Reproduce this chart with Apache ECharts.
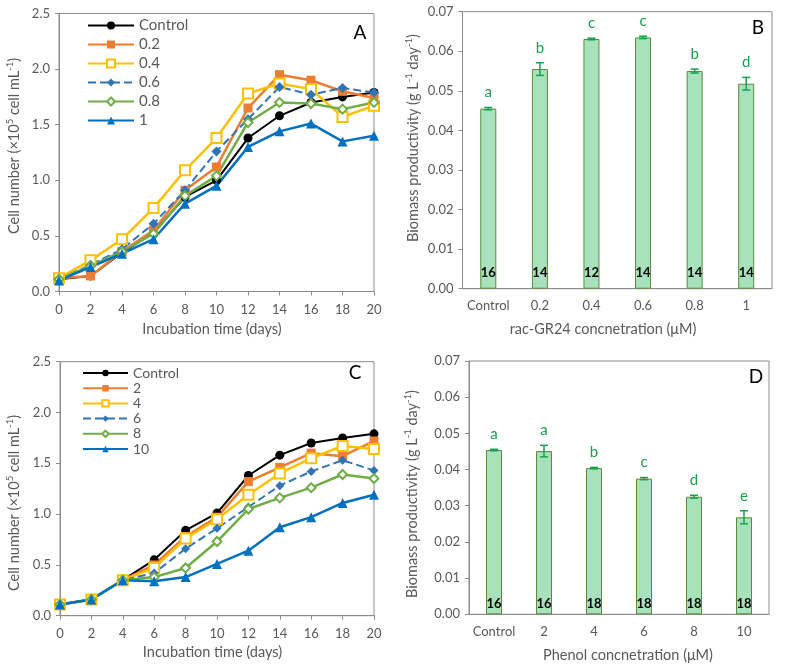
<!DOCTYPE html>
<html><head><meta charset="utf-8">
<script src="https://cdn.jsdelivr.net/npm/echarts@6/dist/echarts.min.js"></script>
<style>html,body{margin:0;padding:0;background:#fff}#c{width:787px;height:667px}</style>
</head><body><div id="c"></div>
<script>
// ---- data ----
const days = [0,2,4,6,8,10,12,14,16,18,20];
// Panel A (rac-GR24)
const aControl = [0.11,0.14,0.35,0.53,0.85,1.00,1.38,1.58,1.70,1.75,1.79];
const a02      = [0.12,0.14,0.36,0.55,0.91,1.12,1.65,1.95,1.90,1.80,1.74];
const a04      = [0.12,0.28,0.47,0.75,1.09,1.38,1.78,1.87,1.82,1.57,1.67];
const a06      = [0.11,0.24,0.38,0.61,0.91,1.26,1.55,1.84,1.77,1.83,1.79];
const a08      = [0.11,0.23,0.36,0.52,0.86,1.04,1.52,1.70,1.69,1.64,1.70];
const a1       = [0.10,0.22,0.34,0.47,0.79,0.95,1.30,1.44,1.51,1.35,1.40];
// Panel C (phenol)
const cControl = [0.11,0.16,0.35,0.55,0.84,1.01,1.38,1.58,1.70,1.75,1.79];
const c2       = [0.11,0.16,0.35,0.50,0.78,0.97,1.32,1.46,1.60,1.57,1.72];
const c4       = [0.11,0.16,0.35,0.47,0.76,0.95,1.19,1.40,1.55,1.67,1.64];
const c6       = [0.11,0.16,0.35,0.42,0.66,0.86,1.07,1.28,1.42,1.53,1.43];
const c8       = [0.11,0.16,0.35,0.38,0.47,0.73,1.05,1.16,1.26,1.39,1.35];
const c10      = [0.11,0.16,0.35,0.34,0.38,0.51,0.64,0.87,0.97,1.11,1.19];
// Panel B
const bCats    = ['Control','0.2','0.4','0.6','0.8','1'];
const bMeans   = [0.0455,0.0555,0.0631,0.0635,0.0550,0.0518];
const bErr     = [0.0003,0.0016,0.0002,0.0003,0.0005,0.0016];
const bLetters = ['a','b','c','c','b','d'];
const bN       = ['16','14','12','14','14','14'];
// Panel D
const dCats    = ['Control','2','4','6','8','10'];
const dMeans   = [0.0454,0.0451,0.0404,0.0375,0.0325,0.0268];
const dErr     = [0.0002,0.0016,0.0002,0.0003,0.0004,0.0018];
const dLetters = ['a','a','b','c','d','e'];
const dN       = ['16','16','18','18','18','18'];

// ---- styling ----
const FONT = 'Lato';
const AX = '#8c8c8c', LBL = '#595959', GREEN = '#1a9f4f';
const BAR = '#a8e2bc', BARB = '#5a8a3a';

function pair(arr){ return days.map((d,i)=>[d,arr[i]]); }

function lineSeries(name, arr, idx, color, symbol, size, opts){
  opts = opts || {};
  const empty = symbol.indexOf('empty') === 0;
  return {
    type:'line', name, xAxisIndex:idx, yAxisIndex:idx, data:pair(arr),
    symbol, symbolSize:size, showAllSymbol:true,
    lineStyle:{color, width:opts.width||2, type:opts.dash?'dashed':'solid'},
    itemStyle:{color, borderColor:color, borderWidth: empty?1.5:0},
    emphasis:{disabled:true}, animation:false
  };
}

function xValAxis(g){
  return {gridIndex:g, type:'value', min:0, max:20, interval:2,
    splitLine:{show:false},
    axisLine:{lineStyle:{color:AX}}, axisTick:{length:4, lineStyle:{color:AX}},
    axisLabel:{color:LBL, fontFamily:FONT, fontSize:13, margin:12}};
}
function yValAxis(g, max, interval, dec){
  return {gridIndex:g, type:'value', min:0, max, interval,
    splitLine:{show:false},
    axisLine:{show:true, lineStyle:{color:AX}}, axisTick:{show:true, length:4, lineStyle:{color:AX}},
    axisLabel:{color:LBL, fontFamily:FONT, fontSize:13, margin:9, formatter:v=>v.toFixed(dec)}};
}
function xCatAxis(g, cats){
  return {gridIndex:g, type:'category', data:cats,
    axisLine:{lineStyle:{color:AX}}, axisTick:{length:5, interval:0, lineStyle:{color:AX}},
    axisLabel:{color:LBL, fontFamily:FONT, fontSize:13, margin:11, interval:0}};
}

function barSeries(idx, means, ns, dist){
  return {type:'bar', xAxisIndex:idx, yAxisIndex:idx, barWidth:16,
    data: means,
    itemStyle:{color:BAR, borderColor:BARB, borderWidth:1},
    label:{show:true, position:'insideBottom', distance:dist, color:'#000',
      fontFamily:FONT, fontWeight:'bold', fontSize:13, formatter:p=>ns[p.dataIndex]},
    emphasis:{disabled:true}, animation:false, z:2};
}
function errSeries(idx, means, errs, letters){
  return {type:'custom', xAxisIndex:idx, yAxisIndex:idx, z:5, animation:false,
    data: means.map((m,i)=>[i,m,errs[i]]),
    renderItem:(params, api)=>{
      const i = api.value(0), m = api.value(1), e = api.value(2);
      const top = api.coord([i, m+e]), bot = api.coord([i, m-e]);
      const h = 4, st = {stroke:GREEN, lineWidth:1.5};
      return {type:'group', children:[
        {type:'line', shape:{x1:top[0],y1:top[1],x2:bot[0],y2:bot[1]}, style:st},
        {type:'line', shape:{x1:top[0]-h,y1:top[1],x2:top[0]+h,y2:top[1]}, style:st},
        {type:'line', shape:{x1:bot[0]-h,y1:bot[1],x2:bot[0]+h,y2:bot[1]}, style:st},
        {type:'text', style:{text:letters[params.dataIndex], x:top[0], y:top[1]-15,
          align:'center', verticalAlign:'middle', fill:GREEN, font:'15px '+FONT}}
      ]};
    }};
}

const richSup = {
  a:{fontFamily:FONT, fontSize:14.5, fill:LBL, lineHeight:17, verticalAlign:'bottom'},
  s:{fontFamily:FONT, fontSize:9.5, fill:LBL, lineHeight:17, verticalAlign:'top'}
};
function title(text, x, y, rot, size){
  return {type:'text', x, y, rotation: rot?Math.PI/2:0, z:10,
    style:{text, align:'center', verticalAlign:'middle', fill:LBL,
      fontFamily:FONT, fontSize:(size||14.5), rich:richSup}};
}
function panel(t, x, y){
  return {type:'text', x, y, z:10, style:{text:t, align:'center', verticalAlign:'middle', fill:'#000', fontFamily:FONT, fontSize:19}};
}

const gridStyle = {show:true, borderColor:AX, borderWidth:1, backgroundColor:'transparent'};

const option = {
  animation:false,
  backgroundColor:'#fff',
  grid:[
    Object.assign({left:59, top:13.5, width:315, height:278}, gridStyle),
    Object.assign({left:462.5, top:11.7, width:309.5, height:277}, gridStyle),
    Object.assign({left:60, top:361.7, width:314, height:254}, gridStyle),
    Object.assign({left:469, top:361, width:300, height:253.3}, gridStyle)
  ],
  xAxis:[ xValAxis(0), xCatAxis(1,bCats), xValAxis(2), xCatAxis(3,dCats) ],
  yAxis:[ yValAxis(0,2.5,0.5,1), yValAxis(1,0.07,0.01,2), yValAxis(2,2.5,0.5,1), yValAxis(3,0.07,0.01,2) ],
  legend:[
    {orient:'vertical', left:82, top:13, itemWidth:46, itemHeight:10, itemGap:4,
     data:['Control','0.2','0.4','0.6','0.8','1'],
     textStyle:{fontFamily:FONT, fontSize:15, color:LBL}, selectedMode:false},
    {orient:'vertical', left:77, top:361, itemWidth:45, itemHeight:8, itemGap:1.2,
     data:['Control ','2','4','6','8','10'],
     formatter: n=>n.trim(),
     textStyle:{fontFamily:FONT, fontSize:14, color:LBL}, selectedMode:false}
  ],
  series:[
    lineSeries('Control', aControl, 0, '#000000', 'circle', 9),
    lineSeries('0.2', a02, 0, '#ED7D31', 'rect', 9, {width:2.5}),
    lineSeries('0.4', a04, 0, '#FFC000', 'emptyRect', 10, {width:2.5}),
    lineSeries('0.6', a06, 0, '#2E75B6', 'diamond', 10, {dash:true}),
    lineSeries('0.8', a08, 0, '#70AD47', 'emptyDiamond', 9, {width:2.5}),
    lineSeries('1', a1, 0, '#0070C0', 'triangle', 10, {width:2.5}),
    lineSeries('Control ', cControl, 2, '#000000', 'circle', 9),
    lineSeries('2', c2, 2, '#ED7D31', 'rect', 9, {width:2.5}),
    lineSeries('4', c4, 2, '#FFC000', 'emptyRect', 10, {width:2.5}),
    lineSeries('6', c6, 2, '#2E75B6', 'diamond', 9, {dash:true}),
    lineSeries('8', c8, 2, '#70AD47', 'emptyDiamond', 9, {width:2.5}),
    lineSeries('10', c10, 2, '#0070C0', 'triangle', 10, {width:2.5}),
    barSeries(1, bMeans, bN, 9),
    errSeries(1, bMeans, bErr, bLetters),
    barSeries(3, dMeans, dN, 4),
    errSeries(3, dMeans, dErr, dLetters)
  ],
  graphic:[
    title('Incubation time (days)', 212, 329, false),
    title('Incubation time (days)', 212.5, 652, false),
    title('{a|Cell number (×10}{s|5}{a| cell mL}{s|-1}{a|)}', 13, 146, true),
    title('{a|Cell number (×10}{s|5}{a| cell mL}{s|-1}{a|)}', 13, 503, true),
    title('rac-GR24 concnetration (μM)', 603, 329, false),
    title('Phenol concnetration (μM)', 628, 655, false),
    title('{a|Biomass productivity (g L}{s|-1}{a| day}{s|-1}{a|)}', 412, 138, true),
    title('{a|Biomass productivity (g L}{s|-1}{a| day}{s|-1}{a|)}', 411, 494, true),
    panel('A', 360, 33), panel('B', 758, 28), panel('C', 355, 373), panel('D', 756, 377)
  ]
};
const chart = echarts.init(document.getElementById('c'), null, {renderer:'canvas'});
chart.setOption(option);
</script>
</body></html>
